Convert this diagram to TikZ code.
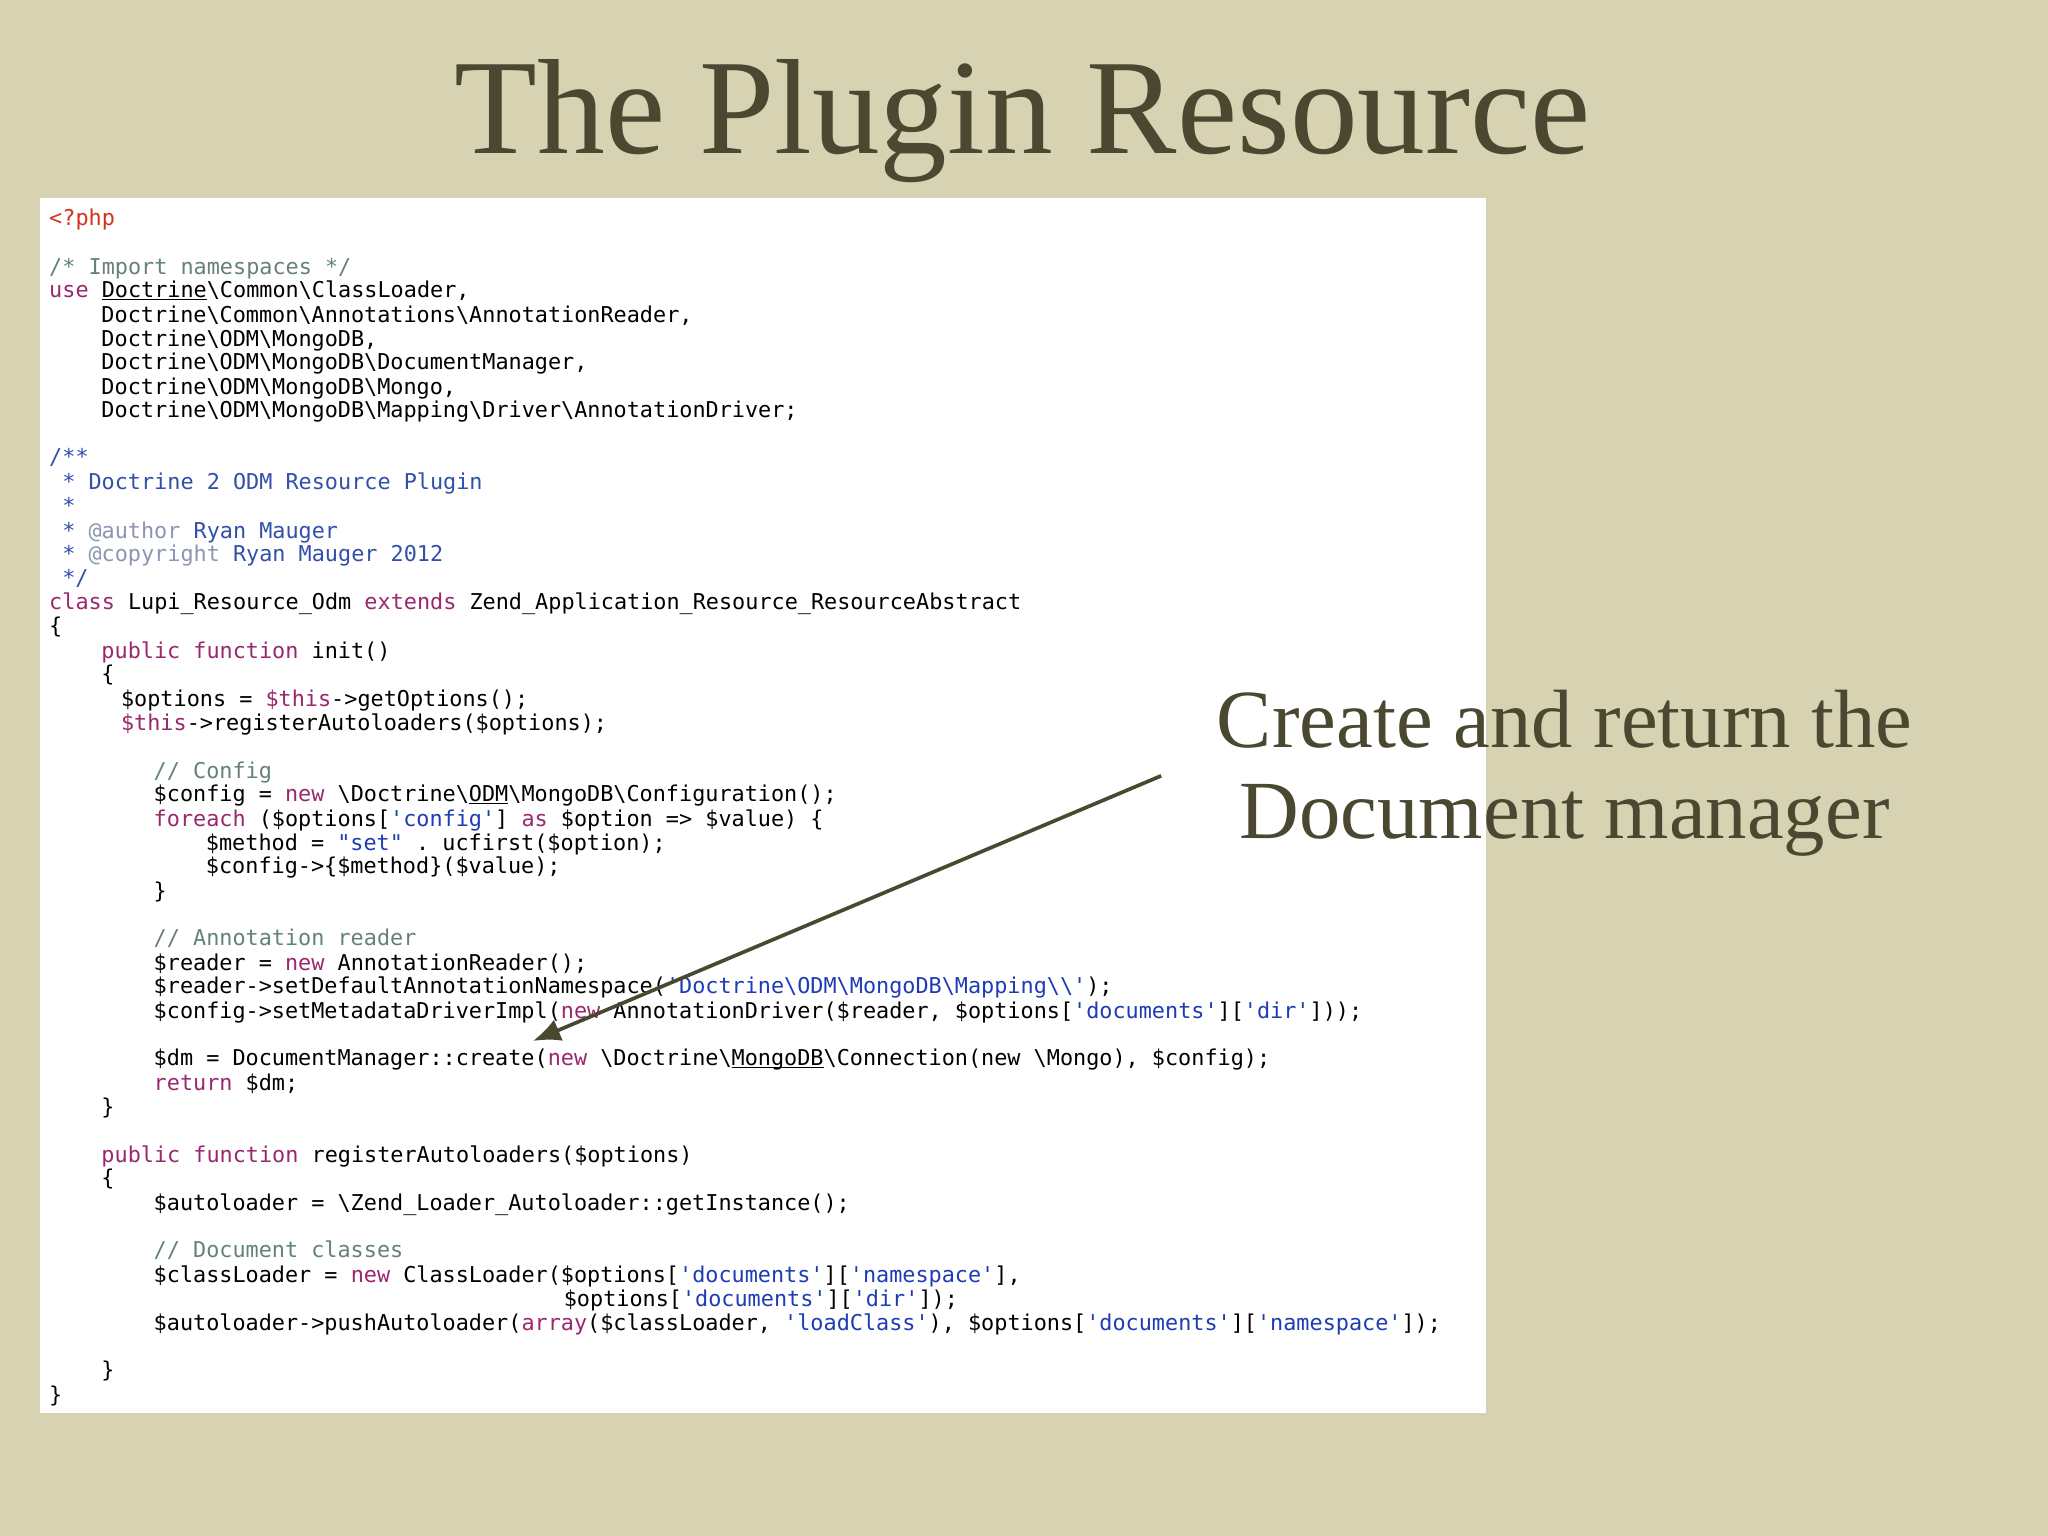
\documentclass[tikz,border=0pt]{standalone}
\usepackage{fontspec}
\usetikzlibrary{arrows.meta}
\setmainfont{Liberation Serif}
\setmonofont{DejaVu Sans Mono}
\definecolor{bg}{RGB}{214,210,178}
\definecolor{ink}{RGB}{74,72,48}
\definecolor{kwc}{RGB}{155,40,110}
\definecolor{stc}{RGB}{30,60,180}
\definecolor{cmc}{RGB}{100,130,120}
\definecolor{dcc}{RGB}{50,80,170}
\definecolor{dca}{RGB}{140,150,180}
\definecolor{phpc}{RGB}{210,50,30}
\newcommand\bs{\textbackslash}
\newcommand\kw[1]{\textcolor{kwc}{#1}}
\newcommand\st[1]{\textcolor{stc}{#1}}
\newcommand\cm[1]{\textcolor{cmc}{#1}}
\newcommand\dc[1]{\textcolor{dcc}{#1}}
\newcommand\dcb[1]{\textcolor{dca}{#1}}
\newcommand\myul[1]{\setbox0\hbox{#1}\rlap{\rule[-0.45pt]{\wd0}{0.25pt}}\box0}
\newcounter{ln}
\newcommand\Ln[3]{\stepcounter{ln}\node[code] (ln\arabic{ln}) at (#1,#2+2) {#3};}
\tikzset{code/.style={anchor=base west,inner sep=0pt,font=\ttfamily\fontsize{4.75pt}{5pt}\selectfont,text=black}}
\begin{document}
\begin{tikzpicture}[x=0.01cm,y=-0.01cm]
\fill[bg] (0,0) rectangle (1568,1176);
\useasboundingbox (0,0) rectangle (1568,1176);
\node[font=\fontsize{29.5pt}{32pt}\selectfont,text=ink] (title) at (783,93) {The Plugin Resource};
\node[draw=none,fill=white,minimum width=1107*0.01cm,minimum height=930*0.01cm,anchor=north west,inner sep=0pt] (box) at (30,151) {};
\Ln{37}{171}{\textcolor{phpc}{<?php}}
\Ln{37}{208}{\cm{/* Import namespaces */}}
\Ln{37}{226}{\kw{use} \myul{Doctrine}\bs Common\bs ClassLoader,}
\Ln{77}{245}{Doctrine\bs Common\bs Annotations\bs AnnotationReader,}
\Ln{77}{263}{Doctrine\bs ODM\bs MongoDB,}
\Ln{77}{281}{Doctrine\bs ODM\bs MongoDB\bs DocumentManager,}
\Ln{77}{300}{Doctrine\bs ODM\bs MongoDB\bs Mongo,}
\Ln{77}{318}{Doctrine\bs ODM\bs MongoDB\bs Mapping\bs Driver\bs AnnotationDriver;}
\Ln{37}{354}{\dc{/**}}
\Ln{47}{373}{\dc{* Doctrine 2 ODM Resource Plugin}}
\Ln{47}{391}{\dc{*}}
\Ln{47}{410}{\dc{* \dcb{@author} Ryan Mauger}}
\Ln{47}{428}{\dc{* \dcb{@copyright} Ryan Mauger 2012}}
\Ln{47}{446}{\dc{*/}}
\Ln{37}{465}{\kw{class} Lupi\_Resource\_Odm \kw{extends} Zend\_Application\_Resource\_ResourceAbstract}
\Ln{37}{483}{\{}
\Ln{77}{502}{\kw{public function} init()}
\Ln{77}{520}{\{}
\Ln{92}{539}{\$options = \kw{\$this}->getOptions();}
\Ln{92}{557}{\kw{\$this}->registerAutoloaders(\$options);}
\Ln{117}{594}{\cm{// Config}}
\Ln{117}{612}{\$config = \kw{new} \bs Doctrine\bs \myul{ODM}\bs MongoDB\bs Configuration();}
\Ln{117}{631}{\kw{foreach} (\$options[\st{'config'}] \kw{as} \$option => \$value) \{}
\Ln{157}{649}{\$method = \st{"set"} . ucfirst(\$option);}
\Ln{157}{667}{\$config->\{\$method\}(\$value);}
\Ln{117}{686}{\}}
\Ln{117}{722}{\cm{// Annotation reader}}
\Ln{117}{741}{\$reader = \kw{new} AnnotationReader();}
\Ln{117}{759}{\$reader->setDefaultAnnotationNamespace(\st{'Doctrine\bs ODM\bs MongoDB\bs Mapping\bs\bs'});}
\Ln{117}{778}{\$config->setMetadataDriverImpl(\kw{new} AnnotationDriver(\$reader, \$options[\st{'documents'}][\st{'dir'}]));}
\Ln{117}{814}{\$dm = DocumentManager::create(\kw{new} \bs Doctrine\bs \myul{MongoDB}\bs Connection(new \bs Mongo), \$config);}
\Ln{117}{833}{\kw{return} \$dm;}
\Ln{77}{851}{\}}
\Ln{77}{888}{\kw{public function} registerAutoloaders(\$options)}
\Ln{77}{906}{\{}
\Ln{117}{925}{\$autoloader = \bs Zend\_Loader\_Autoloader::getInstance();}
\Ln{117}{961}{\cm{// Document classes}}
\Ln{117}{980}{\$classLoader = \kw{new} ClassLoader(\$options[\st{'documents'}][\st{'namespace'}],}
\Ln{431}{998}{\$options[\st{'documents'}][\st{'dir'}]);}
\Ln{117}{1017}{\$autoloader->pushAutoloader(\kw{array}(\$classLoader, \st{'loadClass'}), \$options[\st{'documents'}][\st{'namespace'}]);}
\Ln{77}{1053}{\}}
\Ln{37}{1072}{\}}
\node[font=\fontsize{18pt}{20pt}\selectfont,text=ink,align=center] (note) at (1198,592) {Create and return the\\Document manager};
\coordinate (a1) at (889,594);
\coordinate (a2) at (408,797);
\draw[ink,line width=0.8pt,-{Latex[length=6pt,width=5pt]}] (a1) -- (a2);
\end{tikzpicture}
\end{document}
